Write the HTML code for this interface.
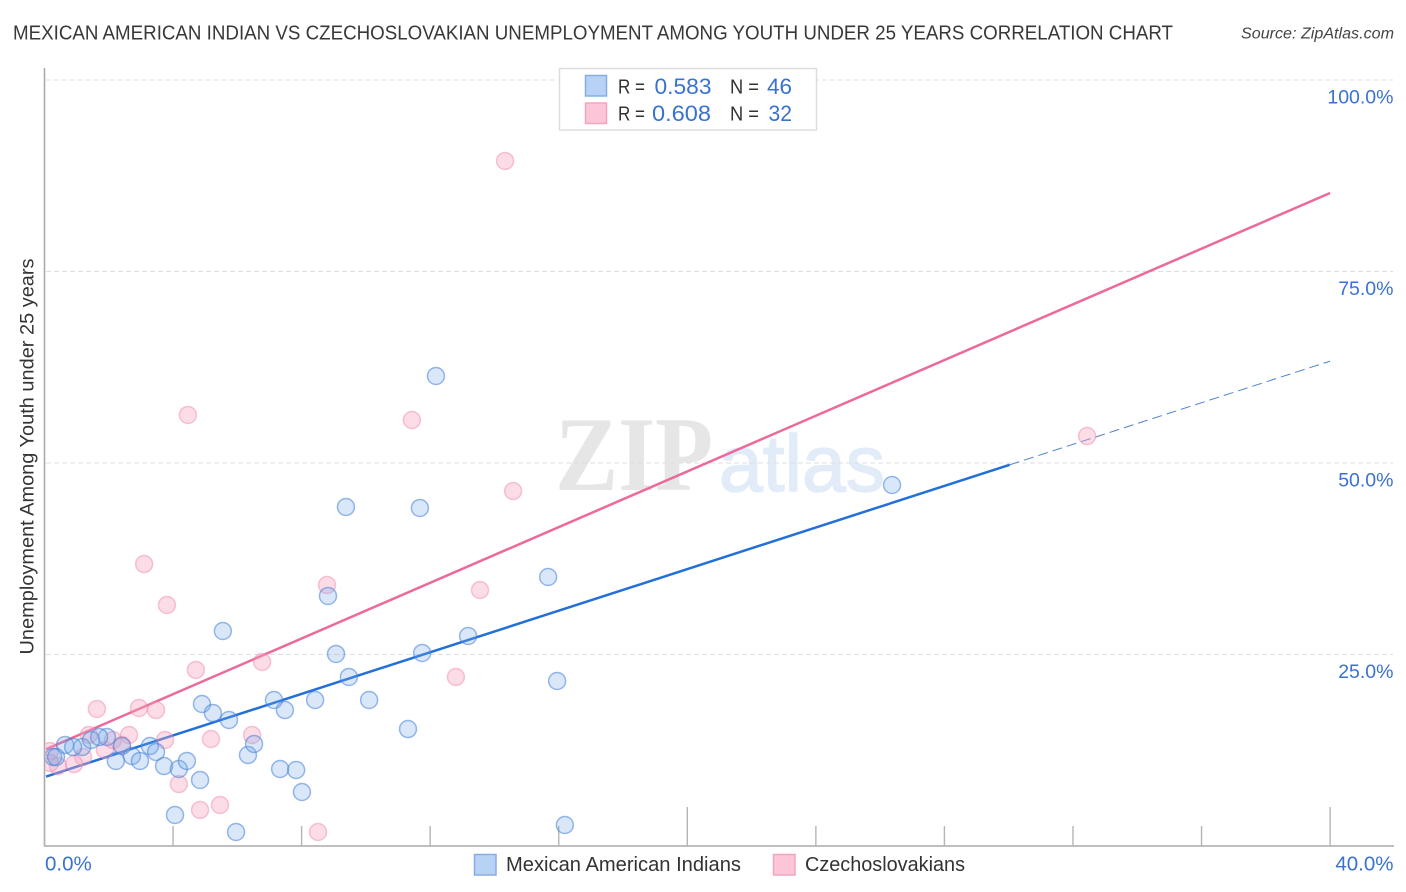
<!DOCTYPE html>
<html lang="en">
<head>
<meta charset="utf-8">
<title>Mexican American Indian vs Czechoslovakian Unemployment Chart</title>
<style>
html,body{margin:0;padding:0;background:#fff;}
body{width:1406px;height:892px;overflow:hidden;}
svg{display:block;font-family:"Liberation Sans",sans-serif;}
</style>
</head>
<body>
<svg id="chart" xmlns="http://www.w3.org/2000/svg" width="1406" height="892" viewBox="0 0 1406 892">
  <defs>
    <clipPath id="plot-clip"><rect x="45.5" y="60" width="1350" height="786"/></clipPath>
  </defs>
  <rect x="0" y="0" width="1406" height="892" fill="#fff"/>
  <text x="13" y="39.5" font-size="20" fill="#383838" textLength="1160" lengthAdjust="spacingAndGlyphs">MEXICAN AMERICAN INDIAN VS CZECHOSLOVAKIAN UNEMPLOYMENT AMONG YOUTH UNDER 25 YEARS CORRELATION CHART</text>
  <text x="1241" y="38.5" font-size="15.5" font-style="italic" fill="#444" textLength="153" lengthAdjust="spacingAndGlyphs">Source: ZipAtlas.com</text>

  <g>
    <text x="555" y="490" font-family="'Liberation Serif',serif" font-size="106" font-weight="bold" fill="#e6e6e6" textLength="158" lengthAdjust="spacingAndGlyphs">ZIP</text>
    <text x="719" y="491" font-size="80" fill="#e2ecf9" stroke="#e2ecf9" stroke-width="1.5" textLength="166" lengthAdjust="spacingAndGlyphs">atlas</text>
  </g>

  <g id="grid"></g>
  <g id="axes"></g>
  <g id="trends"></g>
  <g id="pink-points" clip-path="url(#plot-clip)"></g>
  <g id="blue-points" clip-path="url(#plot-clip)"></g>
  <g id="labels"></g>

  <text transform="translate(33.5,456.5) rotate(-90)" text-anchor="middle" font-size="19" fill="#333" textLength="396" lengthAdjust="spacingAndGlyphs">Unemployment Among Youth under 25 years</text>

  <g>
    <rect x="559.5" y="68.5" width="257" height="61.5" fill="#fff" stroke="#ddd" stroke-width="1.5"/>
    <rect x="585.5" y="75.5" width="21" height="20.5" fill="#b8d2f6" stroke="#85ade3" stroke-width="1.5"/>
    <rect x="585.5" y="103" width="21" height="20.5" fill="#fcc6d8" stroke="#f2a5bf" stroke-width="1.5"/>
    <text x="618" y="93.5" font-size="20" fill="#333" textLength="27" lengthAdjust="spacingAndGlyphs">R =</text>
    <text x="654.5" y="94" font-size="22" fill="#3a72d0" textLength="57" lengthAdjust="spacingAndGlyphs">0.583</text>
    <text x="730" y="93.5" font-size="20" fill="#333" textLength="29" lengthAdjust="spacingAndGlyphs">N =</text>
    <text x="767" y="94" font-size="22" fill="#3a72d0" textLength="25" lengthAdjust="spacingAndGlyphs">46</text>
    <text x="618" y="120.5" font-size="20" fill="#333" textLength="27" lengthAdjust="spacingAndGlyphs">R =</text>
    <text x="652" y="121" font-size="22" fill="#3a72d0" textLength="59" lengthAdjust="spacingAndGlyphs">0.608</text>
    <text x="730" y="120.5" font-size="20" fill="#333" textLength="29" lengthAdjust="spacingAndGlyphs">N =</text>
    <text x="768.5" y="121" font-size="22" fill="#3a72d0" textLength="23.5" lengthAdjust="spacingAndGlyphs">32</text>
  </g>

  <g>
    <rect x="474.5" y="854.5" width="21.5" height="20.5" fill="#b8d2f6" stroke="#85ade3" stroke-width="1.5"/>
    <text x="506" y="871" font-size="20" fill="#333" textLength="235" lengthAdjust="spacingAndGlyphs">Mexican American Indians</text>
    <rect x="773.5" y="854.5" width="21.5" height="20.5" fill="#fcc6d8" stroke="#f2a5bf" stroke-width="1.5"/>
    <text x="805" y="871" font-size="20" fill="#333" textLength="160" lengthAdjust="spacingAndGlyphs">Czechoslovakians</text>
  </g>
</svg>

<script>
const xTicks = [0, 4, 8, 12, 16, 20, 24, 28, 32, 36, 40];
const xMajorTicks = [0, 20, 40];
const yGridValues = [25, 50, 75, 100];
const xTickLabels = ["0.0%", "40.0%"];
const xTickLabelValues = [0, 40];
const yTickLabels = ["25.0%", "50.0%", "75.0%", "100.0%"];

const blueX = [12.18, 26.37, 9.38, 11.68, 15.67, 8.82, 5.55, 13.18, 9.07, 11.75, 9.47, 15.95, 10.10, 11.31, 16.19, 0.64, 1.17, 1.45, 1.94, 2.41, 2.22, 2.72, 2.97, 3.28, 3.47, 3.72, 4.18, 4.43, 4.84, 4.06, 5.96, 4.90, 5.24, 5.74, 6.33, 6.52, 7.14, 7.48, 8.42, 7.33, 7.83, 8.01, 0.27, 0.36, 1.70, 0.89];
const blueY = [61.36, 47.13, 44.26, 44.13, 35.12, 32.64, 28.07, 27.42, 25.07, 25.20, 22.06, 21.54, 19.06, 15.27, 2.74, 13.19, 12.92, 13.84, 14.23, 13.05, 11.10, 11.75, 11.10, 13.05, 12.27, 10.44, 10.05, 11.10, 8.62, 4.05, 1.83, 18.54, 17.36, 16.45, 11.88, 13.32, 19.06, 17.75, 19.06, 10.05, 9.92, 7.05, 11.62, 11.62, 14.23, 12.92];

const pinkX = [14.33, 4.46, 11.43, 14.58, 32.44, 3.10, 3.81, 8.79, 13.55, 12.80, 4.71, 6.77, 1.63, 2.94, 3.47, 1.38, 2.63, 3.75, 5.18, 6.46, 1.88, 2.13, 2.41, 1.20, 0.92, 0.42, 0.17, 0.17, 4.18, 4.84, 5.46, 8.51];
const pinkY = [89.43, 56.27, 55.61, 46.34, 53.52, 36.81, 31.46, 34.07, 33.42, 22.06, 22.98, 24.02, 17.89, 18.02, 17.75, 14.49, 14.49, 13.84, 13.97, 14.49, 12.53, 13.84, 13.19, 11.62, 10.70, 10.44, 12.40, 10.84, 8.09, 4.70, 5.35, 1.83];

const blueTrendEnds = [9.0, 63.3];
const pinkTrendEnds = [12.55, 85.25];
const trendDomain = [0.05, 40];
const blueSolidEnd = 30.03;

const NS = "http://www.w3.org/2000/svg";
function xScale(v) { return 44.5 + v * 32.14; }
function yScale(v) { return 846 - v * 7.66; }
function trendAt(ends, x) { return ends[0] + (ends[1] - ends[0]) * x / 40; }
function make(tag, parentId, props) {
  const el = document.createElementNS(NS, tag);
  Object.keys(props).forEach(function (k) { el.setAttribute(k, props[k]); });
  document.getElementById(parentId).appendChild(el);
  return el;
}

yGridValues.forEach(function (v) {
  const el = make("line", "grid", { x1: 46, x2: 1393, y1: yScale(v), y2: yScale(v), stroke: "#dfdfdf", "stroke-width": 1, "stroke-dasharray": "5 3" });
  
  
});

const yAxisLine = make("line", "axes", { x1: 44.5, x2: 44.5, y1: 68, y2: 846.5, stroke: "#aaa", "stroke-width": 1.6 });


const xAxisLine = make("line", "axes", { x1: 44, x2: 1394, y1: 846, y2: 846, stroke: "#aaa", "stroke-width": 1.6 });



xTicks.forEach(function (v) {
  const top = xMajorTicks.indexOf(v) >= 0 ? 807 : 826;
  const el = make("line", "axes", { x1: xScale(v), x2: xScale(v), y1: top, y2: 846, stroke: "#b5b5b5", "stroke-width": 1.4 });
  
  
});

const pinkTrend = make("line", "trends", {
  x1: xScale(trendDomain[0]), y1: yScale(trendAt(pinkTrendEnds, trendDomain[0])),
  x2: xScale(trendDomain[1]), y2: yScale(trendAt(pinkTrendEnds, trendDomain[1])),
  stroke: "#ec6a9b", "stroke-width": 2.5
});



const blueTrendSolid = make("line", "trends", {
  x1: xScale(trendDomain[0]), y1: yScale(trendAt(blueTrendEnds, trendDomain[0])),
  x2: xScale(blueSolidEnd), y2: yScale(trendAt(blueTrendEnds, blueSolidEnd)),
  stroke: "#2270d8", "stroke-width": 2.5
});



const blueTrendDash = make("line", "trends", {
  x1: xScale(blueSolidEnd), y1: yScale(trendAt(blueTrendEnds, blueSolidEnd)),
  x2: xScale(trendDomain[1]), y2: yScale(trendAt(blueTrendEnds, trendDomain[1])),
  stroke: "#4f83d2", "stroke-width": 1, "stroke-dasharray": "10 5"
});



pinkX.forEach(function (x, i) {
  const el = make("circle", "pink-points", { cx: xScale(x), cy: yScale(pinkY[i]), r: 8.5, fill: "rgba(247,165,192,0.38)", stroke: "rgba(238,130,170,0.45)", "stroke-width": 1.5 });
  
  
});

blueX.forEach(function (x, i) {
  const el = make("circle", "blue-points", { cx: xScale(x), cy: yScale(blueY[i]), r: 8.5, fill: "rgba(120,170,235,0.28)", stroke: "rgba(70,130,215,0.55)", "stroke-width": 1.5 });
  
  
});

yTickLabels.forEach(function (label, i) {
  const el = make("text", "labels", { x: 1393.5, y: yScale(yGridValues[i]) + 23.5, "text-anchor": "end", "font-size": 19.5, fill: "#3a72d0" });
  el.textContent = label;
  
  
});

xTickLabels.forEach(function (label, i) {
  const isFirst = xTickLabelValues[i] === 0;
  const el = make("text", "labels", { x: isFirst ? xScale(xTickLabelValues[i]) + 0.5 : 1393.5, y: 870.5, "text-anchor": isFirst ? "start" : "end", "font-size": 20.5, fill: "#3a72d0" });
  el.textContent = label;
  
  
});
</script>
</body>
</html>
